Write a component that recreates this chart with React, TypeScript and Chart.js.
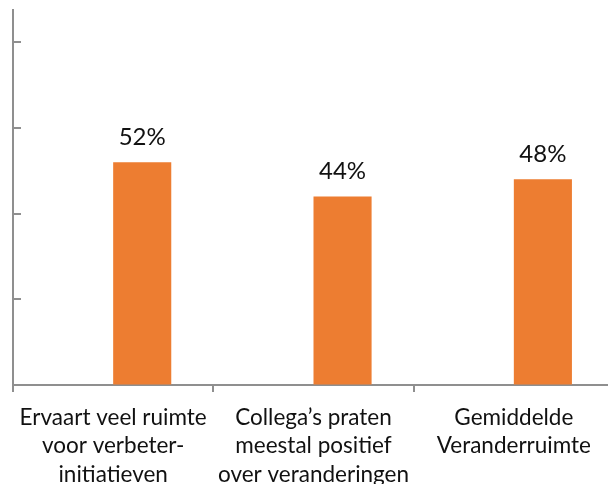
import React, { useEffect, useRef } from 'react';
import { Chart, registerables } from 'chart.js';

Chart.register(...registerables);

const categories: string[][] = [
  ['Ervaart veel ruimte', 'voor verbeter-', 'initiatieven'],
  ['Collega’s praten', 'meestal positief', 'over veranderingen'],
  ['Gemiddelde', 'Veranderruimte'],
];
const values: number[] = [0.52, 0.44, 0.48];
const valueLabels: string[] = ['52%', '44%', '48%'];
const yTicks: number[] = [0, 0.2, 0.4, 0.6, 0.8];
const yMax = 0.875;

const ORANGE = '#ED7D31';
const AXIS = '#8f8f8f';
const FONT = 'Lato, "Open Sans", sans-serif';

export default function App() {
  const ref = useRef<HTMLCanvasElement | null>(null);

  useEffect(() => {
    if (!ref.current) return;
    const overlay = {
      id: 'overlay',
      afterDraw(chart: any) {
        const ctx = chart.ctx;
        const y = chart.scales.y;
        const left = chart.chartArea.left;
        ctx.save();
        ctx.strokeStyle = AXIS;
        ctx.lineWidth = 2;
        yTicks.forEach((t) => {
          if (t === 0) return;
          const py = Math.round(y.getPixelForValue(t));
          ctx.beginPath();
          ctx.moveTo(left, py);
          ctx.lineTo(left + 8, py);
          ctx.stroke();
        });
        const meta = chart.getDatasetMeta(1);
        ctx.fillStyle = '#111';
        ctx.font = `24px ${FONT}`;
        ctx.textAlign = 'center';
        ctx.textBaseline = 'alphabetic';
        meta.data.forEach((bar: any, i: number) => {
          ctx.fillText(valueLabels[i], bar.x, bar.y - 17);
        });
        ctx.restore();
      },
    };

    const chart = new Chart(ref.current, {
      type: 'bar',
      data: {
        labels: categories,
        datasets: [
          { data: values.map(() => null), backgroundColor: 'rgba(0,0,0,0)' },
          { data: values, backgroundColor: ORANGE, borderWidth: 0 },
        ],
      },
      options: {
        responsive: false,
        animation: false,
        devicePixelRatio: 1,
        layout: { padding: { left: 13, top: 10, right: 0, bottom: 0 } },
        datasets: { bar: { barPercentage: 1, categoryPercentage: 0.58 } },
        plugins: { legend: { display: false }, tooltip: { enabled: false } },
        scales: {
          x: {
            offset: true,
            grid: {
              offset: true,
              drawOnChartArea: false,
              drawTicks: true,
              tickLength: 7,
              color: AXIS,
              lineWidth: 2,
            },
            border: { display: true, color: AXIS, width: 2 },
            ticks: {
              color: '#111',
              font: { family: FONT, size: 22.5, lineHeight: 28.5 / 22.5 },
              padding: 11,
              maxRotation: 0,
              autoSkip: false,
            },
            afterFit: (scale: any) => {
              scale.height = 99;
            },
          },
          y: {
            min: 0,
            max: yMax,
            ticks: { display: false, stepSize: 0.2, includeBounds: false },
            grid: { drawOnChartArea: false, drawTicks: false },
            border: { display: true, color: AXIS, width: 2 },
          },
        },
      },
      plugins: [overlay],
    });
    return () => chart.destroy();
  }, []);

  return (
    <div
      style={{
        position: 'fixed',
        left: 0,
        top: 0,
        width: 608,
        height: 484,
        overflow: 'hidden',
        background: '#fff',
      }}
    >
      <canvas ref={ref} width={614} height={484} style={{ display: 'block' }} />
    </div>
  );
}
